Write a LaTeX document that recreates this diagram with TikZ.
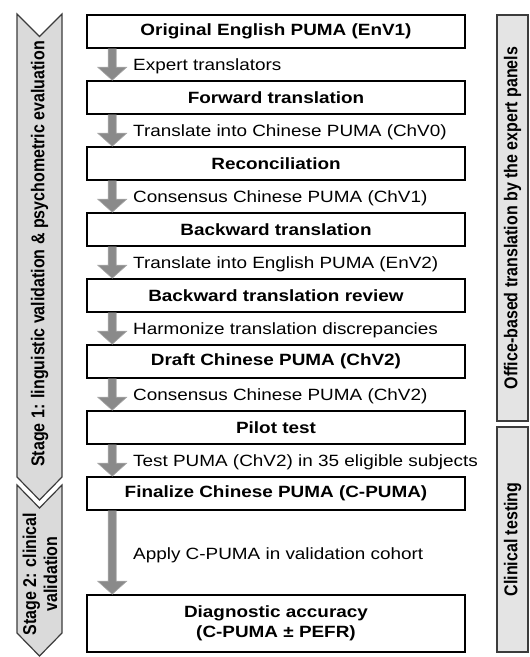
\documentclass[tikz,border=0pt]{standalone}
\usepackage{fontspec}
\setmainfont{Liberation Sans}[FakeStretch=1.16]
\newfontfamily\sidefont{Liberation Sans}
\usetikzlibrary{calc}

\definecolor{arrowgray}{RGB}{138,138,138}
\definecolor{stagefill}{RGB}{218,218,218}
\definecolor{panelfill}{RGB}{228,228,228}
\definecolor{edgegray}{RGB}{60,60,60}

\tikzset{
  stepbox/.style={draw=black, line width=1.6pt, fill=white, inner sep=0pt,
    minimum width=378pt, minimum height=33pt, align=center,
    font=\fontsize{16.3}{20}\selectfont\bfseries},
  lbl/.style={anchor=west, inner sep=0pt, font=\fontsize{16.3}{20}\selectfont},
  flowarrow/.style={fill=arrowgray, draw=arrowgray!75!white, line width=0.6pt},
  stagearrow/.style={fill=stagefill, draw=edgegray, line width=1.2pt, line join=miter},
  stagetext/.style={xscale=1.16, rotate=90, align=center, inner sep=0pt,
    font=\sidefont\fontsize{16}{18}\selectfont\bfseries},
  panel/.style={draw=edgegray, fill=panelfill, line width=1.2pt, inner sep=0pt,
    minimum width=31pt},
}

% thick block arrow from the bottom of one step to the top of the next
\newcommand\flowarrow[2]{%
  \filldraw[flowarrow] let \p1=([xshift=26pt]#1.south west),
                           \p2=([xshift=26pt]#2.north west) in
    (\x1-4pt,\y1) -- (\x1+4pt,\y1) -- (\x1+4pt,\y2+13pt) -- (\x1+14.5pt,\y2+13pt)
    -- (\x1,\y2) -- (\x1-14.5pt,\y2+13pt) -- (\x1-4pt,\y2+13pt) -- cycle;}

\begin{document}
\begin{tikzpicture}[x=1pt, y=-1pt]
\useasboundingbox (0,0) rectangle (530,657);

% stage chevrons on the left
\filldraw[stagearrow] (17,14) -- (39.5,36.5) -- (62,14) -- (62,477) -- (39.5,500) -- (17,477) -- cycle;
\node[stagetext] (s1) at (39.5,254) {Stage 1: linguistic validation \& psychometric evaluation};
\filldraw[stagearrow] (17,485) -- (39.5,508) -- (62,485) -- (62,633) -- (39.5,656) -- (17,633) -- cycle;
\node[stagetext] (s2) at (40,574) {Stage 2: clinical\\validation};

% panels on the right
\node[panel, minimum height=406pt] (p1) at (512.5,218) {};
\node[stagetext] at (p1.center) {Office-based translation by the expert panels};
\node[panel, minimum height=225pt] (p2) at (512.5,539.5) {};
\node[stagetext] at (p2.center) {Clinical testing};

% main flow
\node[stepbox] (b1) at (276,31.5)  {Original English PUMA (EnV1)};
\node[stepbox] (b2) at (276,97.5)  {Forward translation};
\node[stepbox] (b3) at (276,163.5) {Reconciliation};
\node[stepbox] (b4) at (276,229.5) {Backward translation};
\node[stepbox] (b5) at (276,295.5) {Backward translation review};
\node[stepbox] (b6) at (276,361.5) {Draft Chinese PUMA (ChV2)};
\node[stepbox] (b7) at (276,427.5) {Pilot test};
\node[stepbox] (b8) at (276,493.5) {Finalize Chinese PUMA (C-PUMA)};
\node[stepbox, minimum height=57pt] (b9) at (276,623.5) {Diagnostic accuracy\\(C-PUMA ± PEFR)};

\flowarrow{b1}{b2}
\flowarrow{b2}{b3}
\flowarrow{b3}{b4}
\flowarrow{b4}{b5}
\flowarrow{b5}{b6}
\flowarrow{b6}{b7}
\flowarrow{b7}{b8}
\flowarrow{b8}{b9}

% step labels
\node[lbl] (l1) at (133,66)  {Expert translators};
\node[lbl] (l2) at (133,132) {Translate into Chinese PUMA (ChV0)};
\node[lbl] (l3) at (133,198) {Consensus Chinese PUMA (ChV1)};
\node[lbl] (l4) at (133,264) {Translate into English PUMA (EnV2)};
\node[lbl] (l5) at (133,330) {Harmonize translation discrepancies};
\node[lbl] (l6) at (133,396) {Consensus Chinese PUMA (ChV2)};
\node[lbl] (l7) at (133,462) {Test PUMA (ChV2) in 35 eligible subjects};
\node[lbl] (l8) at (133,555) {Apply C-PUMA in validation cohort};
\end{tikzpicture}
\end{document}
